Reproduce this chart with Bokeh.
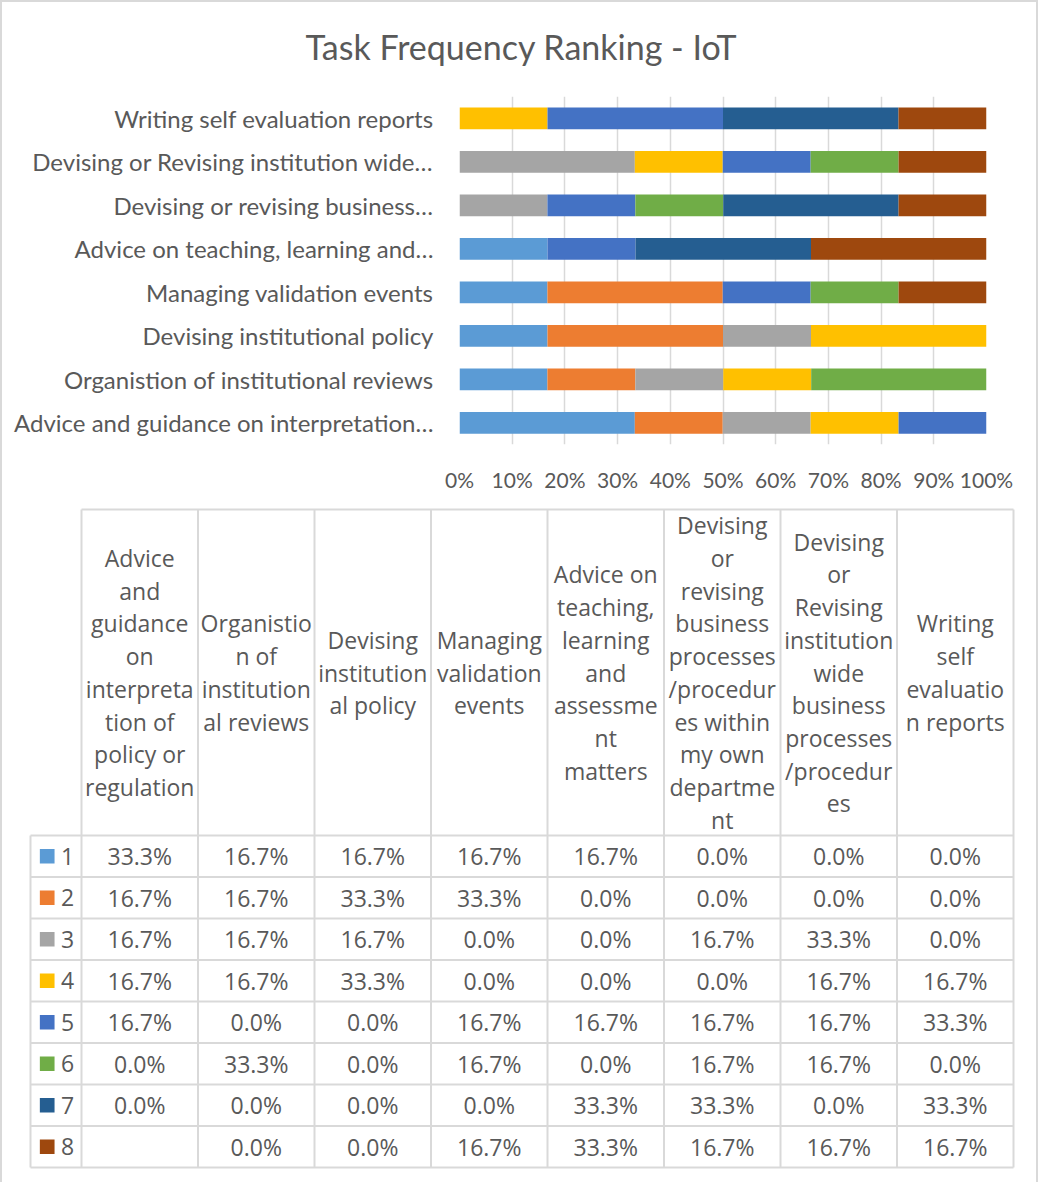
from bokeh.plotting import figure
from bokeh.models import ColumnDataSource, FactorRange, Range1d, FixedTicker, NumeralTickFormatter
from bokeh.core.properties import value
from bokeh.embed import file_html
from bokeh.resources import INLINE

# ---------------- data ----------------
title_text = "Task Frequency Ranking - IoT"

categories = [
    "Advice and guidance on interpretation of policy or regulation",
    "Organistion of institutional reviews",
    "Devising institutional policy",
    "Managing validation events",
    "Advice on teaching, learning and assessment matters",
    "Devising or revising business processes/procedures within my own department",
    "Devising or Revising institution wide business processes/procedures",
    "Writing self evaluation reports",
]
axis_labels = [
    "Advice and guidance on interpretation\u2026",
    "Organistion of institutional reviews",
    "Devising institutional policy",
    "Managing validation events",
    "Advice on teaching, learning and\u2026",
    "Devising or revising business\u2026",
    "Devising or Revising institution wide\u2026",
    "Writing self evaluation reports",
]
header_lines = [
    ["Advice", "and", "guidance", "on", "interpreta", "tion of", "policy or", "regulation"],
    ["Organistio", "n of", "institution", "al reviews"],
    ["Devising", "institution", "al policy"],
    ["Managing", "validation", "events"],
    ["Advice on", "teaching,", "learning", "and", "assessme", "nt", "matters"],
    ["Devising", "or", "revising", "business", "processes", "/procedur", "es within", "my own", "departme", "nt"],
    ["Devising", "or", "Revising", "institution", "wide", "business", "processes", "/procedur", "es"],
    ["Writing", "self", "evaluatio", "n reports"],
]
series_names = ["1", "2", "3", "4", "5", "6", "7", "8"]
s1 = [33.3, 16.7, 16.7, 16.7, 16.7, 0.0, 0.0, 0.0]
s2 = [16.7, 16.7, 33.3, 33.3, 0.0, 0.0, 0.0, 0.0]
s3 = [16.7, 16.7, 16.7, 0.0, 0.0, 16.7, 33.3, 0.0]
s4 = [16.7, 16.7, 33.3, 0.0, 0.0, 0.0, 16.7, 16.7]
s5 = [16.7, 0.0, 0.0, 16.7, 16.7, 16.7, 16.7, 33.3]
s6 = [0.0, 33.3, 0.0, 16.7, 0.0, 16.7, 16.7, 0.0]
s7 = [0.0, 0.0, 0.0, 0.0, 33.3, 33.3, 0.0, 33.3]
s8 = [None, 0.0, 0.0, 16.7, 33.3, 16.7, 16.7, 16.7]
series_values = [s1, s2, s3, s4, s5, s6, s7, s8]
x_ticks = [0.0, 0.1, 0.2, 0.3, 0.4, 0.5, 0.6, 0.7, 0.8, 0.9, 1.0]

# ---------------- styles ----------------
series_colors = ["#5B9BD5", "#ED7D31", "#A5A5A5", "#FFC000", "#4472C4", "#70AD47", "#255E91", "#9E480E"]
TXT = "#595959"
GRID = "#D9D9D9"
BORDER = "2px solid #D9D9D9"
W = 1038

# ---------------- title strip ----------------
H0 = 96
p0 = figure(width=W, height=H0, x_range=Range1d(0, W), y_range=Range1d(H0, 0),
            output_backend="svg", toolbar_location=None,
            x_axis_location=None, y_axis_location=None, min_border=0)
p0.grid.visible = False
p0.outline_line_color = None
p0.text(x=[W / 2], y=[44], text=[title_text], text_font=value("Lato"),
        text_font_size="34px", text_color=TXT, text_align="center", text_baseline="middle")
p0.styles = {"border-top": BORDER, "border-left": BORDER, "border-right": BORDER}

# ---------------- bar chart ----------------
H1 = 404
totals = [sum(v[i] for v in series_values if v[i] is not None) for i in range(len(categories))]
data = {"cat": axis_labels}
for name, vals in zip(series_names, series_values):
    data["s" + name] = [((v if v is not None else 0.0) / t) for v, t in zip(vals, totals)]
src = ColumnDataSource(data)

p1 = figure(width=W, height=H1, x_range=Range1d(0, 1), y_range=FactorRange(*axis_labels, range_padding=0),
            output_backend="svg", toolbar_location=None,
            min_border_left=457, min_border_right=54, min_border_top=0, min_border_bottom=56)
p1.outline_line_color = None
p1.hbar_stack(["s" + n for n in series_names], y="cat", height=0.5, source=src,
              fill_color=series_colors, line_color=None)

p1.xaxis.ticker = FixedTicker(ticks=x_ticks)
p1.xaxis.formatter = NumeralTickFormatter(format="0%")
p1.xgrid.ticker = FixedTicker(ticks=x_ticks)
p1.xgrid.grid_line_color = GRID
p1.xgrid.grid_line_width = 1.5
p1.ygrid.visible = False
for ax in (p1.xaxis, p1.yaxis):
    ax.axis_line_color = None
    ax.major_tick_line_color = None
    ax.minor_tick_line_color = None
    ax.major_tick_out = 0
    ax.major_tick_in = 0
    ax.major_label_text_color = TXT
    ax.major_label_text_font = "Lato"
p1.xaxis.major_label_text_font_size = "21px"
p1.xaxis.major_label_standoff = 22
p1.yaxis.major_label_text_font_size = "24px"
p1.yaxis.major_label_standoff = 26
p1.styles = {"border-left": BORDER, "border-right": BORDER}

# ---------------- data table ----------------
H2 = 682
p2 = figure(width=W, height=H2, x_range=Range1d(0, W), y_range=Range1d(H2, 0),
            output_backend="svg", toolbar_location=None,
            x_axis_location=None, y_axis_location=None, min_border=0)
p2.grid.visible = False
p2.outline_line_color = None
p2.styles = {"border-left": BORDER, "border-right": BORDER}

X0 = 79.0       # left edge of first data column
CW = 116.5      # column width
LX0 = 28.0      # left edge of legend column
HT = 9.0        # header top
HB = 335.0      # header bottom
RH = 41.5       # row height
ncol = len(categories)
nrow = len(series_names)
xr = X0 + ncol * CW
yb = HB + nrow * RH

x0s, y0s, x1s, y1s = [], [], [], []
x0s.append(X0); y0s.append(HT); x1s.append(xr); y1s.append(HT)
for k in range(nrow + 1):
    y = HB + k * RH
    x0s.append(LX0); y0s.append(y); x1s.append(xr); y1s.append(y)
for i in range(ncol + 1):
    x = X0 + i * CW
    x0s.append(x); y0s.append(HT); x1s.append(x); y1s.append(yb)
x0s.append(LX0); y0s.append(HB); x1s.append(LX0); y1s.append(yb)
p2.segment(x0=x0s, y0=y0s, x1=x1s, y1=y1s, line_color=GRID, line_width=2)

hx, hy, ht = [], [], []
LS = 32.7
hc = (HT + HB) / 2
for i, lines in enumerate(header_lines):
    n = len(lines)
    for k, t in enumerate(lines):
        hx.append(X0 + (i + 0.5) * CW)
        hy.append(hc + (k - (n - 1) / 2) * LS)
        ht.append(t)
p2.text(x=hx, y=hy, text=ht, text_font=value("Open Sans"), text_font_size="23px",
        text_color=TXT, text_align="center", text_baseline="middle")

vx, vy, vt = [], [], []
for j, vals in enumerate(series_values):
    for i, v in enumerate(vals):
        if v is None:
            continue
        vx.append(X0 + (i + 0.5) * CW)
        vy.append(HB + (j + 0.5) * RH)
        vt.append(f"{v:.1f}%")
p2.text(x=vx, y=vy, text=vt, text_font=value("Open Sans"), text_font_size="23px",
        text_color=TXT, text_align="center", text_baseline="middle")

ry = [HB + (j + 0.5) * RH for j in range(nrow)]
p2.rect(x=[44.7] * nrow, y=ry, width=14.7, height=14.7, fill_color=series_colors, line_color=None)
p2.text(x=[65] * nrow, y=ry, text=series_names, text_font=value("Open Sans"), text_font_size="23px",
        text_color=TXT, text_align="center", text_baseline="middle")

open("out.html", "w").write(file_html([p0, p1, p2], INLINE))
